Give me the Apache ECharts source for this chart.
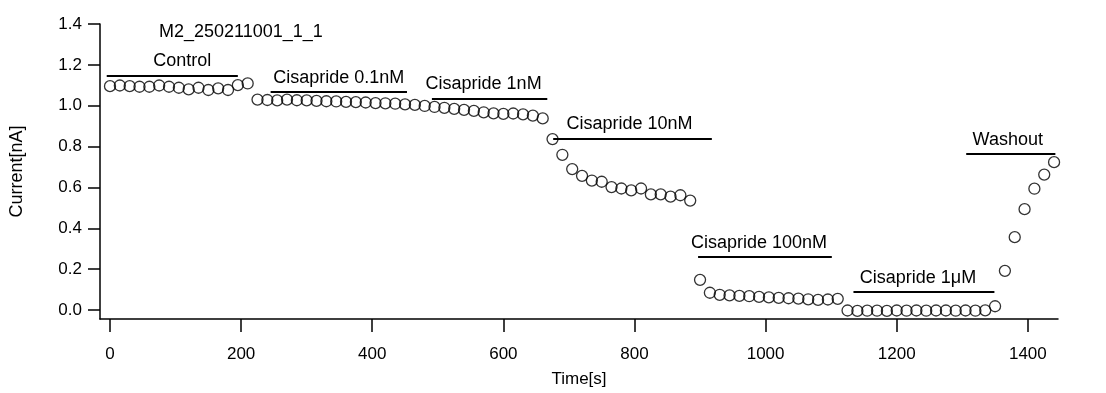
<!DOCTYPE html>
<html>
<head>
<meta charset="utf-8">
<script src="https://cdn.jsdelivr.net/npm/echarts@6/dist/echarts.min.js"></script>
<style>
html,body{margin:0;padding:0;background:#fff;}
#chart{width:1106px;height:393px;}
</style>
</head>
<body>
<div id="chart"></div>
<script>
// Time points [s]
const times = [
  0, 15, 30, 45, 60, 75, 90, 105, 120, 135, 150, 165, 180, 195, 210,
  225, 240, 255, 270, 285, 300, 315, 330, 345, 360, 375, 390, 405, 420, 435,
  450, 465, 480, 495, 510, 525, 540, 555, 570, 585, 600, 615, 630, 645, 660,
  675, 690, 705, 720, 735, 750, 765, 780, 795, 810, 825, 840, 855, 870, 885,
  900, 915, 930, 945, 960, 975, 990, 1005, 1020, 1035, 1050, 1065, 1080, 1095, 1110,
  1125, 1140, 1155, 1170, 1185, 1200, 1215, 1230, 1245, 1260, 1275, 1290, 1305, 1320, 1335,
  1350, 1365, 1380, 1395, 1410, 1425, 1440
];
// Current [nA]
const currents = [
  1.096, 1.099, 1.096, 1.093, 1.093, 1.099, 1.093, 1.088, 1.080, 1.088, 1.077, 1.085, 1.077, 1.101, 1.109,
  1.030, 1.028, 1.026, 1.030, 1.027, 1.026, 1.024, 1.022, 1.021, 1.019, 1.018, 1.016, 1.013, 1.012, 1.010,
  1.007, 1.004, 0.999, 0.994, 0.990, 0.985, 0.980, 0.975, 0.968, 0.963, 0.960, 0.962, 0.958, 0.952, 0.938,
  0.837, 0.760, 0.690, 0.657, 0.634, 0.628, 0.602, 0.595, 0.586, 0.595, 0.566, 0.566, 0.555, 0.562, 0.536,
  0.148, 0.085, 0.075, 0.072, 0.070, 0.068, 0.065, 0.062, 0.060, 0.058, 0.056, 0.053, 0.050, 0.052, 0.055,
  -0.002, -0.004, -0.003, -0.003, -0.004, -0.002, -0.003, -0.002, -0.003, -0.002, -0.002, -0.003, -0.002, -0.003, -0.001,
  0.019, 0.192, 0.357, 0.494, 0.594, 0.663, 0.724
];
// Condition annotations: label, start [s], end [s], level [nA]
const condLabels = ['Control', 'Cisapride 0.1nM', 'Cisapride 1nM', 'Cisapride 10nM', 'Cisapride 100nM', 'Cisapride 1\u03bcM', 'Washout'];
const condStart  = [-5, 245, 491, 676, 897, 1134, 1306];
const condEnd    = [195, 453, 667, 918, 1101, 1349, 1442];
const condLevel  = [1.149, 1.067, 1.036, 0.840, 0.261, 0.088, 0.764];

const xTicks = [0, 200, 400, 600, 800, 1000, 1200, 1400];
const yTicks = [0, 0.2, 0.4, 0.6, 0.8, 1.0, 1.2, 1.4];

// horizontal nudges (px) of the annotation texts relative to their bar centres
const labelShift = [10, 0, -6, -3, -6, -6, -3];

const FONT = '"Liberation Sans", Arial, sans-serif';
const chart = echarts.init(document.getElementById('chart'));

const markData = condLabels.map((name, k) => {
  const s = labelShift[k];
  const pad = s >= 0 ? [0, 0, 0, 2 * s] : [0, -2 * s, 0, 0];
  return [
    { name: name, coord: [condStart[k], condLevel[k]], label: { padding: pad } },
    { coord: [condEnd[k], condLevel[k]] }
  ];
});

chart.setOption({
  animation: false,
  backgroundColor: '#fff',
  title: {
    text: 'M2_250211001_1_1',
    left: 159, top: 23, padding: 0,
    textStyle: { fontFamily: FONT, fontSize: 18, fontWeight: 'normal', color: '#000' }
  },
  grid: { left: 100, right: 48, top: 24, bottom: 70, containLabel: false },
  xAxis: {
    type: 'value', min: -15.26, max: 1446,
    name: 'Time[s]', nameLocation: 'middle', nameGap: 52,
    nameTextStyle: { fontFamily: FONT, fontSize: 17, color: '#000' },
    axisLine: { onZero: false, lineStyle: { color: '#000', width: 1.5 } },
    axisTick: { show: true, inside: false, length: 13, customValues: xTicks, lineStyle: { color: '#000', width: 1.5 } },
    axisLabel: { customValues: xTicks, margin: 27, fontFamily: FONT, fontSize: 17, color: '#000',
      formatter: v => String(Math.round(v)) },
    splitLine: { show: false }
  },
  yAxis: {
    type: 'value', min: -0.0435, max: 1.4,
    name: 'Current[nA]', nameLocation: 'middle', nameGap: 74, nameRotate: 90,
    nameTextStyle: { fontFamily: FONT, fontSize: 18, color: '#000' },
    axisLine: { onZero: false, lineStyle: { color: '#000', width: 1.5 } },
    axisTick: { show: true, inside: false, length: 12, customValues: yTicks, lineStyle: { color: '#000', width: 1.5 } },
    axisLabel: { customValues: yTicks, margin: 18, fontFamily: FONT, fontSize: 17, color: '#000',
      formatter: v => v.toFixed(1) },
    splitLine: { show: false }
  },
  series: [{
    type: 'scatter',
    data: times.map((t, i) => [t, currents[i]]),
    symbol: 'circle',
    symbolSize: 11,
    itemStyle: { color: 'rgba(255,255,255,0)', borderColor: '#000', borderWidth: 1.3 },
    emphasis: { disabled: true },
    markLine: {
      silent: true,
      symbol: ['none', 'none'],
      lineStyle: { color: '#000', width: 2, type: 'solid' },
      label: { show: true, position: 'middle', formatter: '{b}', distance: 5,
        fontFamily: FONT, fontSize: 18, color: '#000' },
      emphasis: { disabled: true },
      data: markData
    }
  }]
});
</script>
</body>
</html>
